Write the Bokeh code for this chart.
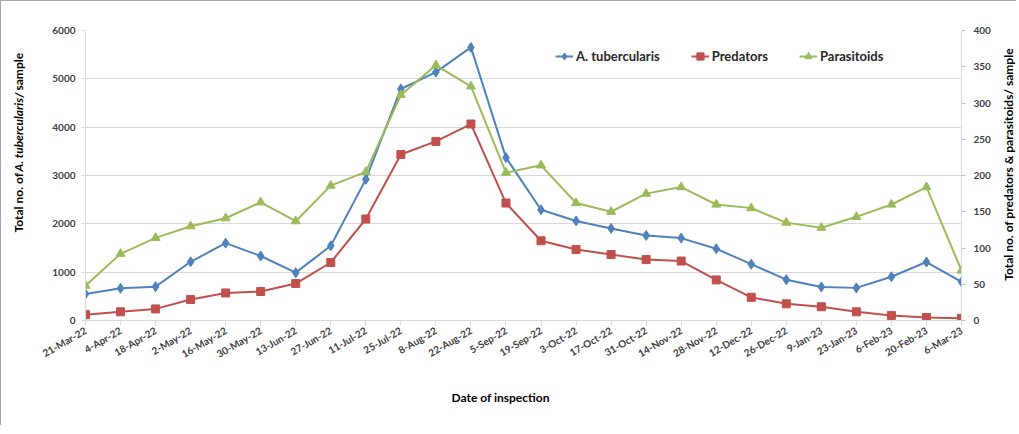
import math
from bokeh.plotting import figure
from bokeh.models import Range1d, LinearAxis, FixedTicker, Label, Title
from bokeh.layouts import row
from bokeh.embed import file_html
from bokeh.resources import INLINE

# ---- data ----
dates = ["21-Mar-22", "4-Apr-22", "18-Apr-22", "2-May-22", "16-May-22", "30-May-22",
         "13-Jun-22", "27-Jun-22", "11-Jul-22", "25-Jul-22", "8-Aug-22", "22-Aug-22",
         "5-Sep-22", "19-Sep-22", "3-Oct-22", "17-Oct-22", "31-Oct-22", "14-Nov-22",
         "28-Nov-22", "12-Dec-22", "26-Dec-22", "9-Jan-23", "23-Jan-23", "6-Feb-23",
         "20-Feb-23", "6-Mar-23"]
tubercularis = [550, 665, 700, 1215, 1600, 1335, 990, 1545, 2920, 4790, 5140, 5650,
                3370, 2290, 2060, 1905, 1760, 1705, 1485, 1165, 845, 695, 675, 905,
                1210, 800]
predators = [8, 12, 16, 29, 38, 40, 51, 80, 140, 229, 247, 271, 162, 110, 98, 91, 84,
             82, 56, 32, 23, 19, 12, 7, 4, 3]
parasitoids = [48, 92, 114, 130, 141, 163, 137, 186, 205, 311, 352, 323, 204, 214, 162,
               150, 175, 184, 160, 155, 135, 128, 143, 160, 184, 69]
left_ticks = [0, 1000, 2000, 3000, 4000, 5000, 6000]
right_ticks = [0, 50, 100, 150, 200, 250, 300, 350, 400]

idx = list(range(len(dates)))
FONT = "Lato"
BLUE, RED, GREEN = "#4F81BD", "#C0504D", "#9BBB59"
GRID = "#d9d9d9"
H = 424

p = figure(width=963, height=H, output_backend="svg", toolbar_location=None,
           x_range=Range1d(0, len(dates) - 1), y_range=Range1d(0, 6000),
           min_border_left=54, min_border_right=33, min_border_top=29,
           min_border_bottom=105)
p.outline_line_color = None
p.extra_y_ranges = {"right": Range1d(0, 400)}


def style_axis(ax):
    ax.major_label_text_font = FONT
    ax.major_label_text_font_style = "bold"
    ax.major_label_text_font_size = "10px"
    ax.major_label_text_color = "#404040"
    ax.axis_line_color = GRID
    ax.major_tick_in = 0
    ax.minor_tick_line_color = None


# x axis
xa = p.xaxis[0]
style_axis(xa)
xa.ticker = FixedTicker(ticks=idx)
xa.major_label_overrides = {i: d for i, d in zip(idx, dates)}
xa.major_label_orientation = math.pi / 6
xa.major_tick_line_color = GRID
xa.major_tick_out = 5
xa.major_label_standoff = 4

# left axis
ya = p.yaxis[0]
style_axis(ya)
ya.ticker = FixedTicker(ticks=left_ticks)
ya.major_tick_line_color = GRID
ya.major_tick_out = 4
ya.major_label_standoff = 6

# right axis
ra = LinearAxis(y_range_name="right", ticker=FixedTicker(ticks=right_ticks))
style_axis(ra)
ra.major_tick_line_color = "#bfbfbf"
ra.major_tick_out = 4
ra.major_label_standoff = 8
p.add_layout(ra, "right")

# x-axis title (offset to sit where the reference places it)
p.add_layout(Title(text="Date of inspection", align="left", offset=366, standoff=40,
                   text_font=FONT, text_font_style="bold", text_font_size="12px",
                   text_color="#000000"), "below")

p.xgrid.grid_line_color = None
p.ygrid.grid_line_color = GRID
p.ygrid.ticker = FixedTicker(ticks=left_ticks)

# series
p.line(idx, tubercularis, color=BLUE, line_width=2, legend_label="A. tubercularis")
p.scatter(idx, tubercularis, marker="diamond", size=10, color=BLUE,
          legend_label="A. tubercularis")
p.line(idx, predators, color=RED, line_width=2, y_range_name="right",
       legend_label="Predators")
p.scatter(idx, predators, marker="square", size=8, color=RED, y_range_name="right",
          legend_label="Predators")
p.line(idx, parasitoids, color=GREEN, line_width=2, y_range_name="right",
       legend_label="Parasitoids")
p.scatter(idx, parasitoids, marker="triangle", size=9, color=GREEN,
          y_range_name="right", legend_label="Parasitoids")

lg = p.legend[0]
lg.orientation = "horizontal"
lg.location = (470, 254)
lg.border_line_color = None
lg.background_fill_alpha = 0
lg.padding = 0
lg.margin = 0
lg.spacing = 31
lg.glyph_width = 18
lg.label_standoff = 3
lg.label_text_font = FONT
lg.label_text_font_style = "bold"
lg.label_text_font_size = "13px"
lg.label_text_color = "#262626"


def side_fig(w):
    f = figure(width=w, height=H, output_backend="svg", toolbar_location=None,
               x_axis_type=None, y_axis_type=None, min_border=0,
               x_range=Range1d(0, 1), y_range=Range1d(0, 1))
    f.outline_line_color = None
    f.grid.visible = False
    return f


common = dict(x_units="screen", y_units="screen", text_font=FONT,
              text_font_size="12px", text_color="#000000", text_baseline="middle",
              angle=math.pi / 2)

# left axis title (with italic species name); y measured from the plot-area bottom
lf = side_fig(30)
lf.add_layout(Label(x=17, y=88, text="Total no. of ", text_align="left",
                    text_font_style="bold", **common))
lf.add_layout(Label(x=17, y=149, text="A. tubercularis/", text_align="left",
                    text_font_style="bold italic", **common))
lf.add_layout(Label(x=17, y=230, text=" sample", text_align="left",
                    text_font_style="bold", **common))

# right axis title
rf = side_fig(22)
rf.add_layout(Label(x=14, y=156, text="Total no. of predators & parasitoids/ sample",
                    text_align="center", text_font_style="bold", **common))

layout = row(lf, p, rf)
layout.styles = {"border-left": "1px solid #a6a6a6", "border-top": "1px solid #a6a6a6"}

open("out.html", "w").write(file_html(layout, INLINE))
